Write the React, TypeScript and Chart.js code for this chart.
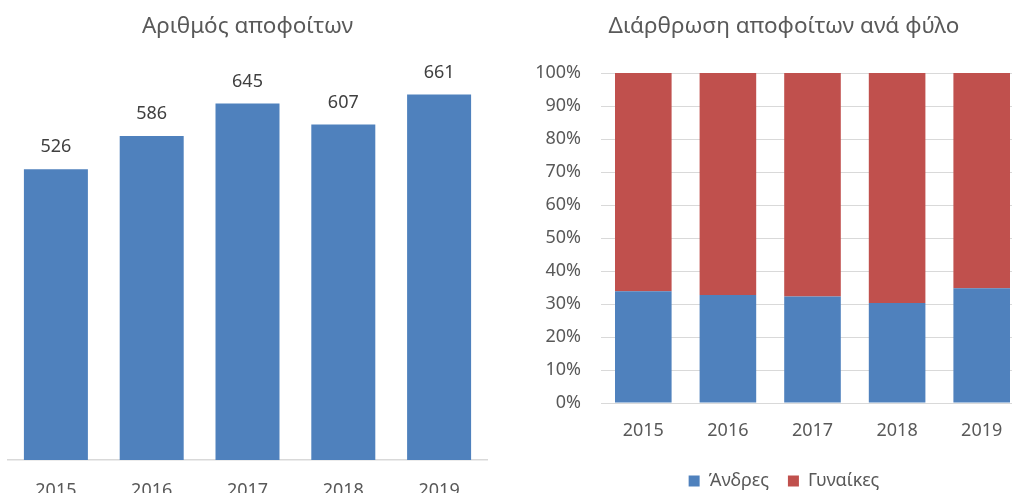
import { useEffect, useRef } from "react";
import { Chart, registerables } from "chart.js";

Chart.register(...registerables);

const years = ["2015", "2016", "2017", "2018", "2019"];
const graduates = [526, 586, 645, 607, 661];
const menShare = [33.9, 32.7, 32.3, 30.3, 34.8];
const womenShare = [66.1, 67.3, 67.7, 69.7, 65.2];
const seriesNames = ["Άνδρες", "Γυναίκες"];
const leftTitle = "Αριθμός αποφοίτων";
const rightTitle = "Διάρθρωση αποφοίτων ανά φύλο";

const FONT = "'Noto Sans', sans-serif";
const TEXT = "#595959";
const LABEL = "#404040";
const BLUE = "#4F81BD";
const RED = "#C0504D";
const GRID = "#D9D9D9";

const valueLabels = {
  id: "valueLabels",
  afterDatasetsDraw(chart: any) {
    const ctx = chart.ctx;
    const meta = chart.getDatasetMeta(0);
    ctx.save();
    ctx.font = `18px ${FONT}`;
    ctx.fillStyle = LABEL;
    ctx.textAlign = "center";
    ctx.textBaseline = "middle";
    meta.data.forEach((el: any, i: number) => {
      ctx.fillText(String(chart.data.datasets[0].data[i]), el.x, el.y - 22);
    });
    ctx.restore();
  },
};

// let y tick labels extend into the left padding without being clipped
const widenYLabelArea = {
  id: "widenYLabelArea",
  afterLayout(chart: any) {
    const y = chart.scales.y;
    if (y) {
      y.left = 0;
      y.width = y.right;
    }
  },
};

export default function App() {
  const leftRef = useRef<HTMLCanvasElement>(null);
  const rightRef = useRef<HTMLCanvasElement>(null);

  useEffect(() => {
    const left = new Chart(leftRef.current!, {
      type: "bar",
      data: {
        labels: years,
        datasets: [
          {
            data: graduates,
            backgroundColor: BLUE,
            categoryPercentage: 0.668,
            barPercentage: 1,
          },
        ],
      },
      options: {
        animation: false,
        responsive: false,
        layout: { padding: { left: 8, right: 13, top: 0, bottom: 0 } },
        plugins: {
          legend: { display: false },
          tooltip: { enabled: false },
          title: {
            display: true,
            text: leftTitle,
            color: TEXT,
            font: { family: FONT, size: 22.5, weight: "normal" },
            padding: { top: 13.5, bottom: 32.5 },
          },
        },
        scales: {
          x: {
            grid: { display: false, drawTicks: false },
            border: { color: GRID, width: 1.5 },
            ticks: { color: TEXT, font: { family: FONT, size: 18 }, padding: 20 },
            afterFit: (s: any) => {
              s.height = 40;
            },
          },
          y: { display: false, min: 0, max: 700 },
        },
      },
      plugins: [valueLabels],
    } as any);

    const right = new Chart(rightRef.current!, {
      type: "bar",
      data: {
        labels: years,
        datasets: [
          {
            label: seriesNames[0],
            data: menShare,
            backgroundColor: BLUE,
            categoryPercentage: 0.669,
            barPercentage: 1,
          },
          {
            label: seriesNames[1],
            data: womenShare,
            backgroundColor: RED,
            categoryPercentage: 0.669,
            barPercentage: 1,
          },
        ],
      },
      options: {
        animation: false,
        responsive: false,
        layout: { padding: { left: 24, right: 0, top: 0, bottom: 0 } },
        plugins: {
          tooltip: { enabled: false },
          title: {
            display: true,
            text: rightTitle,
            color: TEXT,
            font: { family: FONT, size: 22.5, weight: "normal" },
            padding: { top: 13.5, bottom: 32.5 },
          },
          legend: {
            position: "bottom",
            labels: {
              boxWidth: 11,
              boxHeight: 11,
              padding: 19,
              color: TEXT,
              font: { family: FONT, size: 18 },
            },
          },
        },
        scales: {
          x: {
            stacked: true,
            grid: { display: false, drawTicks: false },
            border: { color: GRID },
            ticks: { color: TEXT, font: { family: FONT, size: 18 }, padding: 17 },
            afterFit: (s: any) => {
              s.height = 50;
            },
          },
          y: {
            stacked: true,
            min: 0,
            max: 100,
            ticks: {
              stepSize: 10,
              callback: (v: any) => v + "%",
              padding: 20,
              color: TEXT,
              font: { family: FONT, size: 18 },
            },
            grid: { color: GRID, drawTicks: false },
            border: { display: false },
            afterFit: (s: any) => {
              s.width = 57;
            },
          },
        },
      },
      plugins: [widenYLabelArea],
    } as any);

    return () => {
      left.destroy();
      right.destroy();
    };
  }, []);

  return (
    <div
      style={{
        position: "fixed",
        left: 0,
        top: 0,
        width: 1012,
        height: 493,
        overflow: "hidden",
        background: "#fff",
      }}
    >
      <canvas
        ref={leftRef}
        width={500}
        height={500}
        style={{ position: "absolute", left: 0, top: 0, width: 500, height: 500 }}
      />
      <canvas
        ref={rightRef}
        width={504}
        height={500}
        style={{ position: "absolute", left: 520, top: 0, width: 504, height: 500 }}
      />
    </div>
  );
}
